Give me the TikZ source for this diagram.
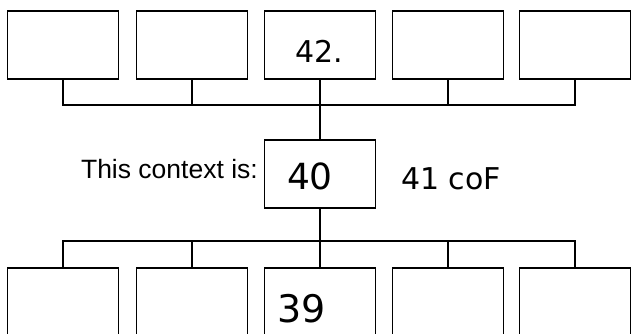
\documentclass[tikz,border=0pt]{standalone}
\usepackage{fontspec}
\setmainfont{Liberation Sans}
\newfontfamily\handfont{DejaVu Sans}

\begin{document}
\begin{tikzpicture}[x=1pt, y=-1pt,
    box/.style={draw, line width=1.5pt, minimum width=111pt, minimum height=68pt, inner sep=0pt},
    link/.style={line width=1.5pt},
    hand/.style={font=\handfont\fontsize{#1}{#1}\selectfont, inner sep=0pt}]
  \useasboundingbox (0,0) rectangle (632,333);
  \clip (0,0) rectangle (632,333);

  % the two rows of boxes
  \foreach \n/\x in {1/63, 2/192, 3/320, 4/448, 5/575}{
    \node[box] (t\n) at (\x, 45) {};
    \node[box] (b\n) at (\x, 302) {};
  }
  \node[box] (m) at (320, 174) {};

  \coordinate (topbar) at (320, 105);
  \coordinate (botbar) at (320, 241);

  % connectors
  \draw[link] (t1.south) |- (t5.south |- topbar) -- (t5.south);
  \draw[link] (b1.north) |- (b5.north |- botbar) -- (b5.north);
  \foreach \n in {2,3,4}{
    \draw[link] (t\n.south) -- (t\n.south |- topbar);
    \draw[link] (b\n.north) -- (b\n.north |- botbar);
  }
  \draw[link] (t3.south) -- (m.north);
  \draw[link] (m.south) -- (b3.north);

  \node[anchor=base east, inner sep=0pt, font=\fontsize{26.5}{30}\selectfont] (ctx) at (258, 178) {This context is:};

  % handwritten entries
  \node[hand=30pt, anchor=base] (v42) at (319, 62) {42.};
  \node[hand=36pt, anchor=base] (v40) at (310, 189) {40};
  \node[hand=30pt, anchor=base west] (v41) at (401, 189) {41 coF};
  \node[hand=38pt, anchor=base] (v39) at (302, 322) {39};
\end{tikzpicture}
\end{document}
